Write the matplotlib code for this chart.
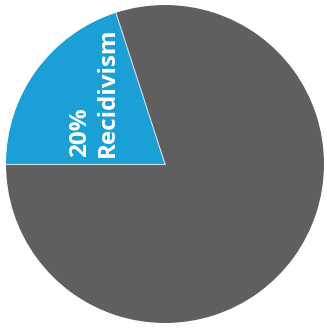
import numpy as np
import matplotlib.pyplot as plt

# share of released offenders
labels = ['Recidivism', 'No recidivism']
shares = [20, 80]
colors = ['#1a9fd6', '#5f5f5f']

W, H = 327, 328
cx, cy, r = 165, 164, 159  # pie centre and radius in pixels

fig = plt.figure(figsize=(W / 100, H / 100), dpi=100, facecolor='white')
ax = fig.add_axes([0, 0, 1, 1])
ax.set_axis_off()

wedges, _ = ax.pie(shares, colors=colors, startangle=108, counterclock=True,
                   radius=1.0, center=(0, 0),
                   wedgeprops=dict(linewidth=0))

# thin light seams along the two radii of the blue slice
for th in (wedges[0].theta1, wedges[0].theta2):
    t = np.deg2rad(th)
    ax.plot([0, np.cos(t)], [0, np.sin(t)], color='#cfdde6', lw=0.8)

ax.set_xlim(-cx / r, (W - cx) / r)
ax.set_ylim(-(H - cy) / r, cy / r)
ax.set_aspect('equal')

ax.text((94 - cx) / r, (cy - 157) / r, f'{shares[0]}%\n{labels[0]}',
        rotation=90, ha='center', va='bottom', multialignment='left',
        color='white', fontsize=17.5, fontweight='bold', family='Open Sans',
        linespacing=1.2)

fig.savefig('out.png', dpi=100, facecolor='white')
